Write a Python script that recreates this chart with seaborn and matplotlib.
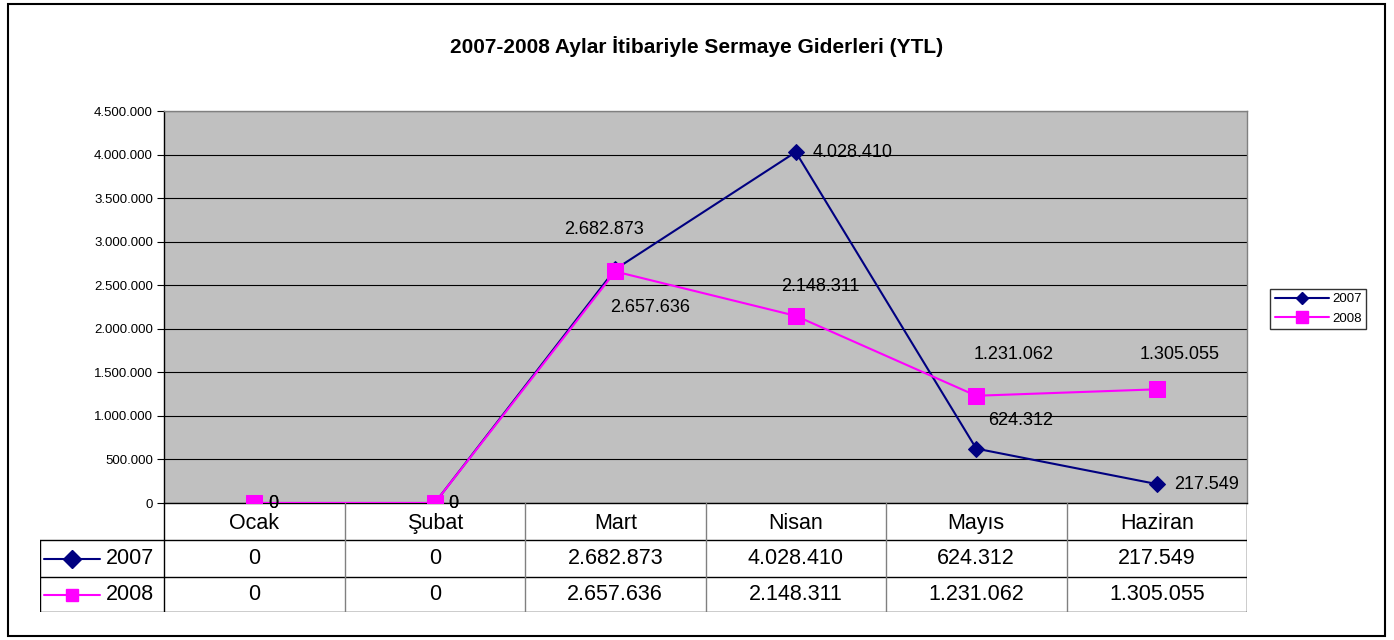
import matplotlib
matplotlib.use("Agg")
import matplotlib.pyplot as plt
import seaborn as sns
import pandas as pd
from matplotlib.patches import Rectangle
from matplotlib.lines import Line2D

# ---------------- Data ----------------
months = ["Ocak", "Şubat", "Mart", "Nisan", "Mayıs", "Haziran"]
values_2007 = [0, 0, 2682873, 4028410, 624312, 217549]
values_2008 = [0, 0, 2657636, 2148311, 1231062, 1305055]
series_names = ["2007", "2008"]
y_ticks = [0, 500000, 1000000, 1500000, 2000000, 2500000, 3000000, 3500000, 4000000, 4500000]

def tr_fmt(v):
    return f"{int(v):,}".replace(",", ".")

df = pd.DataFrame({
    "Ay": months * 2,
    "idx": list(range(len(months))) * 2,
    "Değer": values_2007 + values_2008,
    "Yıl": ["2007"] * len(months) + ["2008"] * len(months),
})

sns.set_style("white")
plt.rcParams["font.family"] = ["Liberation Sans", "DejaVu Sans"]
plt.rcParams["text.color"] = "black"
plt.rcParams["ytick.color"] = "black"

colors = {"2007": "#000080", "2008": "#FF00FF"}
markers = {"2007": "D", "2008": "s"}
msizes = {"2007": 8, "2008": 11}

W, H = 1394, 640
fig = plt.figure(figsize=(W / 100, H / 100), dpi=100)

def px_axes(x0, y0, x1, y1):
    return fig.add_axes([x0 / W, 1 - y1 / H, (x1 - x0) / W, (y1 - y0) / H])

# outer frame
fig.patches.append(Rectangle((8 / W, 4 / H), (1385 - 8) / W, (636 - 4) / H,
                             transform=fig.transFigure, fill=False, ec="black", lw=1.5))

fig.text(697 / W, 1 - 47 / H, "2007-2008 Aylar İtibariyle Sermaye Giderleri (YTL)",
         ha="center", va="center", fontsize=15, fontweight="bold")

# ---------------- Plot area ----------------
ax = px_axes(164, 111, 1247, 503)
ax.set_facecolor("#C0C0C0")
for yr in series_names:
    sns.lineplot(data=df[df["Yıl"] == yr], x="idx", y="Değer", ax=ax, color=colors[yr],
                 marker=markers[yr], markersize=msizes[yr], markeredgecolor=colors[yr],
                 linewidth=1.5, legend=False, zorder=3)
ax.set_xlim(-0.5, len(months) - 0.5)
ax.set_ylim(0, 4500000)
ax.set_yticks(y_ticks)
ax.set_yticklabels([tr_fmt(v) for v in y_ticks], fontsize=9.5)
ax.set_xticks([])
ax.set_xlabel("")
ax.set_ylabel("")
ax.grid(axis="y", color="black", linewidth=0.8)
ax.tick_params(axis="y", direction="out", length=5, width=0.8, color="black", pad=3, left=True)
for s in ax.spines.values():
    s.set_color("#808080")
    s.set_linewidth(1)
ax.spines["left"].set_color("black")
ax.spines["bottom"].set_color("black")

# data labels: offsets of label centre from point, in pixels (down positive)
off_2007 = [(19, 0), (19, 0), (-11, -40), (57, 0), (44, -28), (50, 0)]
off_2008 = [(19, 0), (19, 0), (35, 36), (25, -29), (37, -41), (23, -35)]
for vals, offs in [(values_2007, off_2007), (values_2008, off_2008)]:
    for i, (v, (dx, dy)) in enumerate(zip(vals, offs)):
        ax.annotate(tr_fmt(v), (i, v), xytext=(dx * 0.72, -dy * 0.72), textcoords="offset points",
                    ha="center", va="center", fontsize=13, zorder=5)

# ---------------- Data table ----------------
unit = (1247 - 164) / len(months)
left = -0.5 - (164 - 40) / unit
tax = px_axes(40, 503, 1247, 612)
tax.set_xlim(left, len(months) - 0.5)
tax.set_ylim(3, 0)
tax.axis("off")
row_y = [0, 37 / 109 * 3, 74 / 109 * 3, 3]
tax.plot([-0.5, -0.5], [0, 3], color="black", lw=1)
tax.plot([len(months) - 0.5] * 2, [0, 3], color="black", lw=1)
tax.plot([left, left], [row_y[1], 3], color="black", lw=1)
for y in row_y[1:]:
    tax.plot([left, len(months) - 0.5], [y, y], color="black", lw=1)
for i in range(1, len(months)):
    tax.plot([i - 0.5, i - 0.5], [0, 3], color="#808080", lw=1)
for i, m in enumerate(months):
    tax.text(i, (row_y[0] + row_y[1]) / 2 + 0.05, m, ha="center", va="center", fontsize=15.5)
for r, (yr, vals) in enumerate(zip(series_names, [values_2007, values_2008])):
    yc = (row_y[r + 1] + row_y[r + 2]) / 2
    for i, v in enumerate(vals):
        tax.text(i, yc, tr_fmt(v), ha="center", va="center", fontsize=15.5)
    tax.plot([left + 4 / unit, left + 60 / unit], [yc, yc], color=colors[yr], lw=1.5)
    tax.plot([left + 32 / unit], [yc], marker=markers[yr], color=colors[yr], markersize=9)
    tax.text(left + 66 / unit, yc, yr, ha="left", va="center", fontsize=15.5)

# ---------------- Legend ----------------
handles = [Line2D([0], [0], color=colors[yr], marker=markers[yr], markersize=msizes[yr] - 2, lw=1.5)
           for yr in series_names]
leg = fig.legend(handles, series_names, loc="center", bbox_to_anchor=(1318 / W, 1 - 309 / H),
                 fontsize=9.5, frameon=True, fancybox=False, edgecolor="black",
                 handlelength=4.1, borderpad=0.35, labelspacing=0.55, handletextpad=0.25,
                 borderaxespad=0)
leg.get_frame().set_linewidth(1)

plt.savefig("out.png", dpi=100)
